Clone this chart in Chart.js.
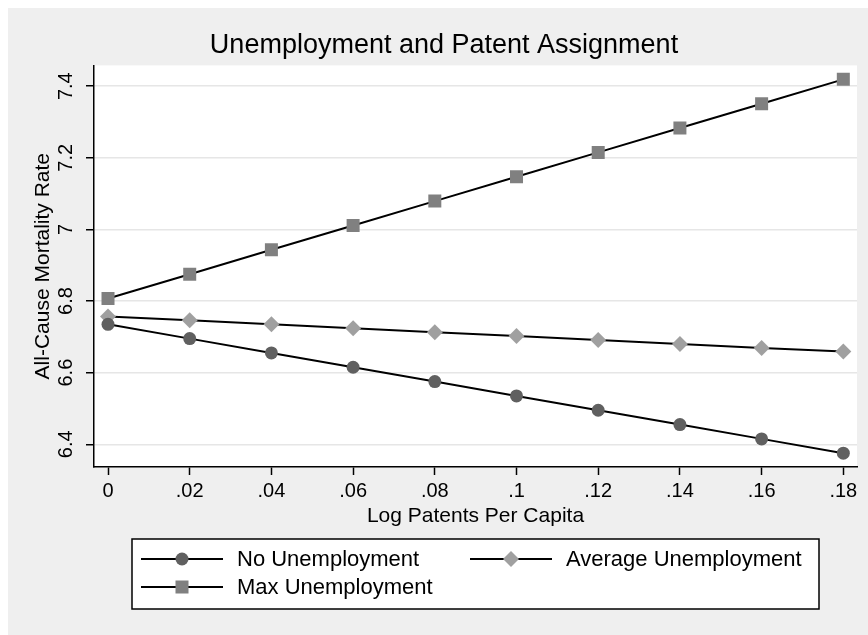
<!DOCTYPE html>
<html>
<head>
<meta charset="utf-8">
<script src="https://cdn.jsdelivr.net/npm/chart.js@4/dist/chart.umd.min.js"></script>
<style>
  html, body { margin: 0; padding: 0; background: #ffffff; }
  #wrap { position: relative; width: 868px; height: 635px; }
</style>
</head>
<body>
<div id="wrap"><canvas id="chart" width="868" height="635"></canvas></div>
<script>
// Log patents per capita (x positions shared by all series)
const patents = [0, 0.02, 0.04, 0.06, 0.08, 0.10, 0.12, 0.14, 0.16, 0.18];

// Predicted all-cause mortality rate by unemployment level
const noUnemployment   = [6.735, 6.695, 6.655, 6.615, 6.575, 6.535, 6.495, 6.455, 6.415, 6.375];
const avgUnemployment  = [6.757, 6.746, 6.735, 6.724, 6.713, 6.702, 6.691, 6.680, 6.669, 6.659];
const maxUnemployment  = [6.807, 6.875, 6.943, 7.011, 7.079, 7.147, 7.215, 7.283, 7.351, 7.419];

const seriesNames = ['No Unemployment', 'Average Unemployment', 'Max Unemployment'];

// Axis ticks and their printed labels
const xTicks = [0, 0.02, 0.04, 0.06, 0.08, 0.10, 0.12, 0.14, 0.16, 0.18];
const xTickLabels = ['0', '.02', '.04', '.06', '.08', '.1', '.12', '.14', '.16', '.18'];
const yTicks = [6.4, 6.6, 6.8, 7.0, 7.2, 7.4];
const yTickLabels = ['6.4', '6.6', '6.8', '7', '7.2', '7.4'];

const FONT = '"Liberation Sans", Arial, Helvetica, sans-serif';

function toPoints(values) {
  return patents.map((x, i) => ({ x: x, y: values[i] }));
}

function labelFor(ticks, labels, value) {
  const i = ticks.findIndex(t => Math.abs(t - value) < 1e-9);
  return i >= 0 ? labels[i] : '';
}

const markerStyles = [
  { pointStyle: 'circle',  radius: 6.5, color: '#606060' },
  { pointStyle: 'rectRot', radius: 8,   color: '#a0a0a0' },
  { pointStyle: 'rect',    radius: 9.2, color: '#808080' }
];

const seriesValues = [noUnemployment, avgUnemployment, maxUnemployment];

const datasets = seriesValues.map((vals, i) => ({
  label: seriesNames[i],
  data: toPoints(vals),
  borderColor: '#000000',
  borderWidth: 2,
  pointStyle: markerStyles[i].pointStyle,
  pointRadius: markerStyles[i].radius,
  pointHoverRadius: markerStyles[i].radius,
  pointBackgroundColor: markerStyles[i].color,
  pointBorderWidth: 0,
  pointBorderColor: markerStyles[i].color,
  tension: 0,
  fill: false
}));

// Grey outer panel and white plot region
const backdrop = {
  id: 'backdrop',
  beforeDraw(chart) {
    const ctx = chart.ctx;
    const a = chart.chartArea;
    ctx.save();
    ctx.fillStyle = '#ffffff';
    ctx.fillRect(0, 0, chart.width, chart.height);
    ctx.fillStyle = '#efefef';
    ctx.fillRect(8, 8, chart.width - 8, chart.height - 8);
    ctx.fillStyle = '#ffffff';
    ctx.fillRect(a.left, a.top, a.right - a.left, a.bottom - a.top);
    ctx.restore();
  }
};

function drawMarker(ctx, style, x, y) {
  const r = style.radius;
  ctx.fillStyle = style.color;
  ctx.beginPath();
  if (style.pointStyle === 'circle') {
    ctx.arc(x, y, r, 0, Math.PI * 2);
  } else if (style.pointStyle === 'rectRot') {
    ctx.moveTo(x, y - r);
    ctx.lineTo(x + r, y);
    ctx.lineTo(x, y + r);
    ctx.lineTo(x - r, y);
    ctx.closePath();
  } else {
    const s = r * Math.SQRT1_2;
    ctx.rect(x - s, y - s, 2 * s, 2 * s);
  }
  ctx.fill();
}

// Boxed two-column legend below the x axis title
const boxedLegend = {
  id: 'boxedLegend',
  afterDraw(chart) {
    const ctx = chart.ctx;
    const top = chart.scales.x.bottom + 10;
    const left = 132, right = 819, height = 70;
    ctx.save();
    ctx.fillStyle = '#ffffff';
    ctx.fillRect(left, top, right - left, height);
    ctx.strokeStyle = '#000000';
    ctx.lineWidth = 1.5;
    ctx.strokeRect(left, top, right - left, height);

    const cols = [left + 9, left + 338];
    const rows = [top + 20, top + 48];
    const lineLen = 82;
    ctx.font = '22px ' + FONT;
    ctx.textBaseline = 'middle';
    chart.data.datasets.forEach((ds, i) => {
      const cx = cols[i % 2];
      const cy = rows[Math.floor(i / 2)];
      ctx.strokeStyle = ds.borderColor;
      ctx.lineWidth = 2;
      ctx.beginPath();
      ctx.moveTo(cx, cy);
      ctx.lineTo(cx + lineLen, cy);
      ctx.stroke();
      drawMarker(ctx, markerStyles[i], cx + lineLen / 2, cy);
      ctx.fillStyle = '#000000';
      ctx.fillText(ds.label, cx + lineLen + 14, cy + 1);
    });
    ctx.restore();
  }
};

new Chart(document.getElementById('chart'), {
  type: 'line',
  data: { datasets: datasets },
  plugins: [backdrop, boxedLegend],
  options: {
    responsive: false,
    animation: false,
    devicePixelRatio: 1,
    layout: { padding: { left: 31, right: 11, top: 0, bottom: 106 } },
    plugins: {
      legend: { display: false },
      tooltip: { enabled: false },
      title: {
        display: true,
        text: 'Unemployment and Patent Assignment',
        color: '#000000',
        font: { family: FONT, size: 27, weight: 'normal' },
        padding: { top: 29, bottom: 4 }
      }
    },
    scales: {
      x: {
        type: 'linear',
        min: -0.00343,
        max: 0.18335,
        afterBuildTicks(scale) { scale.ticks = xTicks.map(v => ({ value: v })); },
        afterFit(scale) { scale.height = 62; },
        ticks: {
          color: '#000000',
          font: { family: FONT, size: 20 },
          padding: 4,
          maxRotation: 0,
          minRotation: 0,
          autoSkip: false,
          callback: (v) => labelFor(xTicks, xTickLabels, v)
        },
        grid: {
          drawOnChartArea: false,
          drawTicks: true,
          tickLength: 8,
          tickColor: '#000000',
          tickWidth: 1.5
        },
        border: { display: true, color: '#000000', width: 1.5 },
        title: {
          display: true,
          text: 'Log Patents Per Capita',
          color: '#000000',
          font: { family: FONT, size: 21 },
          padding: { top: 0, bottom: 0 }
        }
      },
      y: {
        type: 'linear',
        min: 6.3365,
        max: 7.458,
        afterBuildTicks(scale) { scale.ticks = yTicks.map(v => ({ value: v })); },
        afterFit(scale) { scale.width = 63; },
        ticks: {
          color: '#000000',
          font: { family: FONT, size: 20 },
          padding: 6,
          minRotation: 90,
          maxRotation: 90,
          crossAlign: 'center',
          autoSkip: false,
          callback: (v) => labelFor(yTicks, yTickLabels, v)
        },
        grid: {
          drawOnChartArea: true,
          color: '#e6e6e6',
          lineWidth: 1.5,
          drawTicks: true,
          tickLength: 8,
          tickColor: '#000000',
          tickWidth: 1.5
        },
        border: { display: true, color: '#000000', width: 1.5 },
        title: {
          display: true,
          text: 'All-Cause Mortality Rate',
          color: '#000000',
          font: { family: FONT, size: 21 },
          padding: { top: 0, bottom: 0 }
        }
      }
    }
  }
});
</script>
</body>
</html>
